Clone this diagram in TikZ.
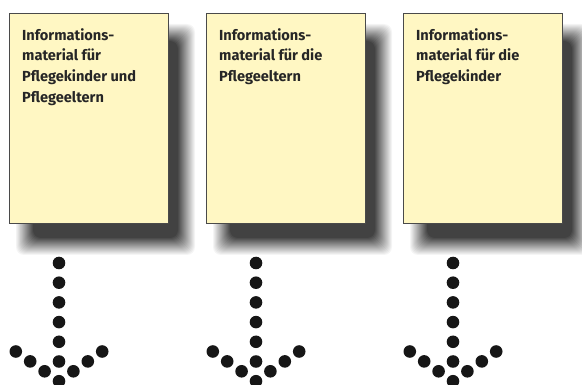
\documentclass[tikz,border=0pt]{standalone}
\usepackage{fontspec}
\setmainfont{Fira Sans}
\definecolor{notefill}{HTML}{FFF7C3}
\definecolor{noteline}{HTML}{4A4A4A}
\definecolor{notetext}{HTML}{262626}
\definecolor{dotcol}{HTML}{161616}
\tikzset{
  note/.style={draw=noteline, line width=0.9pt, fill=notefill,
    minimum width=159pt, minimum height=210pt, inner sep=0pt, anchor=north west},
  notetext/.style={anchor=north west, align=left, inner sep=0pt, text=notetext,
    font=\bfseries\fontsize{14.6}{20.8}\selectfont, xshift=13pt, yshift=-15pt},
  dot/.style={circle, fill=dotcol, minimum size=12.6pt, inner sep=0pt},
}
% soft drop shadow: stacked rectangles, light and wide outside, dark and tight inside
\newcommand{\softshadow}[4]{%
  \foreach \i in {0,...,17}{%
    \pgfmathsetmacro{\shexp}{9*(1-2*\i/18)}%
    \pgfmathsetmacro{\shdark}{74*(\i+1)/18}%
    \fill[black!\shdark, rounded corners=8pt]
      (#1-\shexp,#2-\shexp) rectangle (#3+\shexp,#4+\shexp);
  }}
% dotted downward arrow centred on x = #1, named by prefix #2
\newcommand{\dotarrow}[2]{%
  \foreach \k in {0,...,6}{%
    \node[dot] (#2v\k) at (#1,263+19.7*\k) {};
  }
  \foreach \k in {1,2,3}{%
    \node[dot] (#2l\k) at (#1-14.4*\k,381.2-9.9*\k) {};
    \node[dot] (#2r\k) at (#1+14.4*\k,381.2-9.9*\k) {};
  }}
\begin{document}
\begin{tikzpicture}[x=1pt,y=-1pt]
  \useasboundingbox (0,0) rectangle (582,385);

  % shadows behind the notes
  \softshadow{25}{33}{186}{246}
  \softshadow{222}{33}{383}{246}
  \softshadow{419}{33}{580}{246}

  % notes
  \node[note] (box1) at (9,13) {};
  \node[note] (box2) at (206,13) {};
  \node[note] (box3) at (403,13) {};

  \node[notetext] (txt1) at (box1.north west)
    {Informations-\\material für\\Pflegekinder und\\Pflegeeltern};
  \node[notetext] (txt2) at (box2.north west)
    {Informations-\\material für die\\Pflegeeltern};
  \node[notetext] (txt3) at (box3.north west)
    {Informations-\\material für die\\Pflegekinder};

  % dotted arrows below the notes
  \dotarrow{59}{a}
  \dotarrow{256}{b}
  \dotarrow{453}{c}
\end{tikzpicture}
\end{document}
